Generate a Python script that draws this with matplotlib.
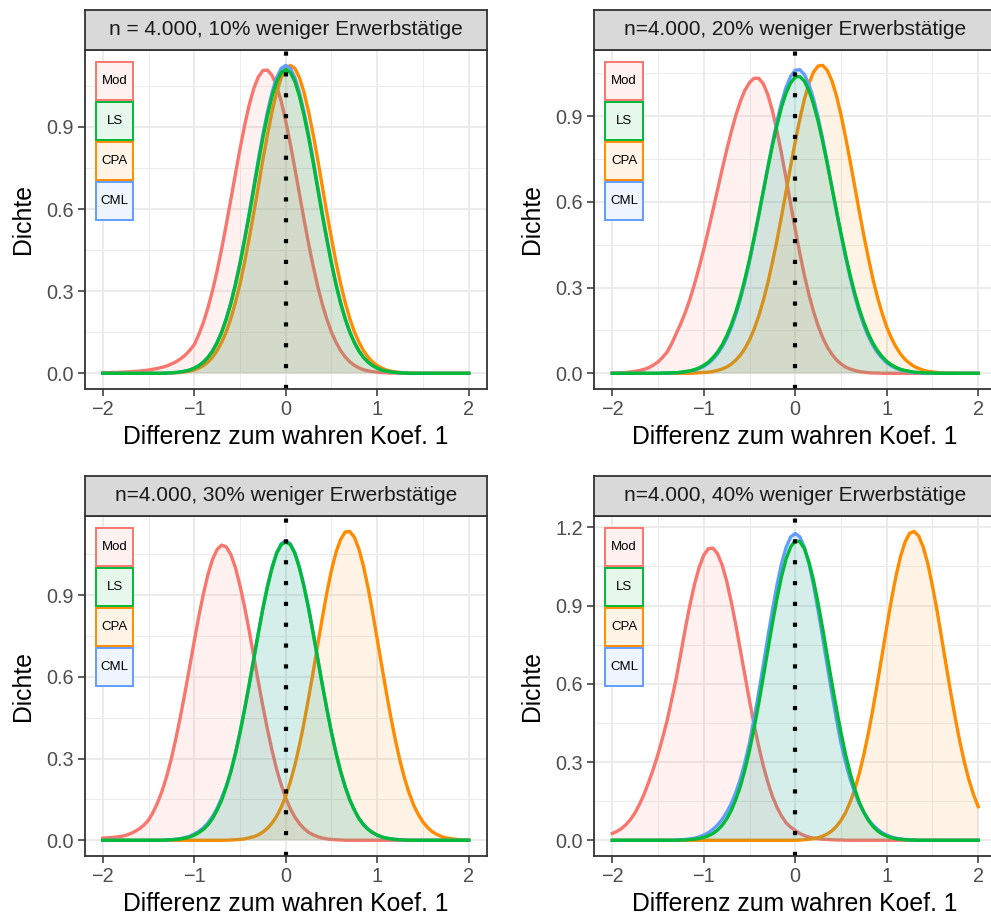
import numpy as np
import matplotlib.pyplot as plt
from matplotlib.colors import to_rgb
from matplotlib.patches import Rectangle

plt.rcParams['font.family'] = ['Liberation Sans', 'DejaVu Sans']

x_grid = np.round(np.linspace(-2, 2, 81), 2)

titles = ['n = 4.000, 10% weniger Erwerbstätige', 'n=4.000, 20% weniger Erwerbstätige',
          'n=4.000, 30% weniger Erwerbstätige', 'n=4.000, 40% weniger Erwerbstätige']
methods = ['Mod', 'LS', 'CPA', 'CML']
colors = {'Mod': '#F8766D', 'LS': '#00BA38', 'CPA': '#FF8C00', 'CML': '#619CFF'}
draw_order = ['Mod', 'CPA', 'CML', 'LS']

# ---- 10 % weniger Erwerbstaetige
mod_10 = [0.002, 0.002, 0.003, 0.003, 0.004, 0.005, 0.006, 0.007, 0.008, 0.010,
          0.012, 0.015, 0.018, 0.022, 0.027, 0.034, 0.042, 0.053, 0.066, 0.084,
          0.105, 0.142, 0.186, 0.240, 0.303, 0.375, 0.456, 0.544, 0.636, 0.729,
          0.820, 0.905, 0.980, 1.040, 1.083, 1.106, 1.108, 1.089, 1.050, 0.994,
          0.921, 0.838, 0.748, 0.655, 0.562, 0.473, 0.391, 0.317, 0.252, 0.197,
          0.150, 0.113, 0.083, 0.060, 0.042, 0.029, 0.020, 0.013, 0.009, 0.006,
          0.004, 0.003, 0.002, 0.001, 0.001, 0, 0, 0, 0, 0,
          0, 0, 0, 0, 0, 0, 0, 0, 0, 0,
          0]
ls_10 = [0, 0, 0, 0, 0, 0, 0, 0, 0, 0,
         0, 0, 0, 0, 0.001, 0.002, 0.003, 0.005, 0.008, 0.012,
         0.019, 0.028, 0.041, 0.058, 0.081, 0.112, 0.150, 0.198, 0.255, 0.323,
         0.400, 0.486, 0.577, 0.673, 0.769, 0.861, 0.942, 1.012, 1.066, 1.099,
         1.110, 1.099, 1.066, 1.012, 0.942, 0.861, 0.769, 0.673, 0.577, 0.486,
         0.400, 0.323, 0.255, 0.198, 0.150, 0.112, 0.081, 0.058, 0.041, 0.028,
         0.019, 0.012, 0.008, 0.005, 0.003, 0.002, 0.001, 0, 0, 0,
         0, 0, 0, 0, 0, 0, 0, 0, 0, 0,
         0]
cpa_10 = [0, 0, 0, 0, 0, 0, 0, 0, 0, 0,
          0, 0, 0, 0, 0.001, 0.001, 0.002, 0.003, 0.005, 0.008,
          0.012, 0.019, 0.028, 0.041, 0.059, 0.083, 0.114, 0.152, 0.200, 0.259,
          0.327, 0.405, 0.493, 0.585, 0.682, 0.780, 0.872, 0.955, 1.026, 1.080,
          1.114, 1.125, 1.114, 1.080, 1.026, 0.955, 0.872, 0.780, 0.682, 0.585,
          0.493, 0.405, 0.327, 0.259, 0.200, 0.152, 0.114, 0.083, 0.059, 0.041,
          0.028, 0.019, 0.012, 0.008, 0.005, 0.003, 0.002, 0.001, 0.001, 0,
          0, 0, 0, 0, 0, 0, 0, 0, 0, 0,
          0]
cml_10 = [0, 0, 0, 0, 0, 0, 0, 0, 0, 0,
          0, 0, 0, 0, 0.001, 0.002, 0.003, 0.005, 0.008, 0.012,
          0.019, 0.028, 0.041, 0.059, 0.083, 0.114, 0.152, 0.201, 0.259, 0.327,
          0.405, 0.493, 0.585, 0.682, 0.780, 0.873, 0.955, 1.026, 1.080, 1.114,
          1.125, 1.114, 1.080, 1.026, 0.955, 0.873, 0.780, 0.682, 0.585, 0.493,
          0.405, 0.327, 0.259, 0.201, 0.152, 0.114, 0.083, 0.059, 0.041, 0.028,
          0.019, 0.012, 0.008, 0.005, 0.003, 0.002, 0.001, 0, 0, 0,
          0, 0, 0, 0, 0, 0, 0, 0, 0, 0,
          0]

# ---- 20 %
mod_20 = [0.001, 0.001, 0.002, 0.003, 0.005, 0.007, 0.010, 0.014, 0.020, 0.029,
          0.040, 0.056, 0.075, 0.104, 0.140, 0.175, 0.215, 0.261, 0.314, 0.372,
          0.434, 0.501, 0.571, 0.642, 0.713, 0.781, 0.845, 0.903, 0.952, 0.991,
          1.018, 1.033, 1.033, 1.014, 0.976, 0.920, 0.849, 0.769, 0.682, 0.592,
          0.504, 0.420, 0.343, 0.275, 0.216, 0.166, 0.125, 0.092, 0.067, 0.047,
          0.033, 0.022, 0.015, 0.010, 0.006, 0.004, 0.002, 0.001, 0.001, 0,
          0, 0, 0, 0, 0, 0, 0, 0, 0, 0,
          0, 0, 0, 0, 0, 0, 0, 0, 0, 0,
          0]
ls_20 = [0, 0, 0, 0, 0, 0, 0, 0, 0, 0,
         0, 0.001, 0.001, 0.002, 0.002, 0.004, 0.006, 0.009, 0.013, 0.019,
         0.028, 0.039, 0.055, 0.074, 0.099, 0.131, 0.169, 0.215, 0.268, 0.331,
         0.399, 0.474, 0.554, 0.636, 0.718, 0.796, 0.868, 0.932, 0.982, 1.017,
         1.037, 1.039, 1.023, 0.990, 0.942, 0.882, 0.811, 0.733, 0.652, 0.570,
         0.490, 0.414, 0.344, 0.281, 0.225, 0.178, 0.138, 0.105, 0.079, 0.058,
         0.042, 0.030, 0.021, 0.014, 0.010, 0.007, 0.004, 0.003, 0.002, 0.001,
         0.001, 0, 0, 0, 0, 0, 0, 0, 0, 0,
         0]
cpa_20 = [0, 0, 0, 0, 0, 0, 0, 0, 0, 0,
          0, 0, 0, 0, 0, 0, 0, 0, 0.001, 0.002,
          0.003, 0.004, 0.006, 0.010, 0.015, 0.022, 0.032, 0.046, 0.064, 0.087,
          0.117, 0.154, 0.200, 0.254, 0.316, 0.388, 0.465, 0.550, 0.637, 0.726,
          0.811, 0.890, 0.960, 1.015, 1.055, 1.076, 1.078, 1.061, 1.025, 0.972,
          0.905, 0.827, 0.743, 0.655, 0.567, 0.482, 0.403, 0.329, 0.265, 0.210,
          0.162, 0.124, 0.093, 0.068, 0.049, 0.035, 0.024, 0.017, 0.011, 0.007,
          0.005, 0.003, 0.002, 0.001, 0.001, 0, 0, 0, 0, 0,
          0]
cml_20 = [0, 0, 0, 0, 0, 0, 0, 0, 0, 0,
          0, 0, 0.001, 0.001, 0.002, 0.003, 0.005, 0.008, 0.011, 0.017,
          0.024, 0.035, 0.049, 0.068, 0.092, 0.122, 0.160, 0.205, 0.260, 0.321,
          0.392, 0.469, 0.551, 0.637, 0.722, 0.805, 0.882, 0.948, 1.002, 1.040,
          1.061, 1.063, 1.046, 1.011, 0.960, 0.896, 0.821, 0.740, 0.653, 0.568,
          0.485, 0.407, 0.335, 0.271, 0.216, 0.168, 0.129, 0.097, 0.072, 0.053,
          0.037, 0.026, 0.018, 0.012, 0.008, 0.005, 0.003, 0.002, 0.001, 0.001,
          0, 0, 0, 0, 0, 0, 0, 0, 0, 0,
          0]

# ---- 30 %
mod_30 = [0.008, 0.009, 0.010, 0.012, 0.014, 0.018, 0.024, 0.032, 0.042, 0.056,
          0.074, 0.103, 0.139, 0.183, 0.237, 0.301, 0.375, 0.457, 0.545, 0.638,
          0.732, 0.823, 0.905, 0.977, 1.032, 1.068, 1.084, 1.077, 1.049, 1.001,
          0.935, 0.857, 0.770, 0.676, 0.582, 0.492, 0.407, 0.330, 0.261, 0.204,
          0.155, 0.116, 0.085, 0.061, 0.043, 0.029, 0.020, 0.013, 0.008, 0.005,
          0.003, 0.002, 0.001, 0, 0, 0, 0, 0, 0, 0,
          0, 0, 0, 0, 0, 0, 0, 0, 0, 0,
          0, 0, 0, 0, 0, 0, 0, 0, 0, 0,
          0]
ls_30 = [0, 0, 0, 0, 0, 0, 0, 0, 0, 0,
         0, 0, 0, 0, 0.001, 0.002, 0.003, 0.005, 0.008, 0.012,
         0.019, 0.028, 0.040, 0.057, 0.080, 0.111, 0.148, 0.196, 0.252, 0.319,
         0.395, 0.480, 0.570, 0.665, 0.759, 0.850, 0.930, 0.999, 1.053, 1.085,
         1.096, 1.085, 1.053, 0.999, 0.930, 0.850, 0.759, 0.665, 0.570, 0.480,
         0.395, 0.319, 0.252, 0.196, 0.148, 0.111, 0.080, 0.057, 0.040, 0.028,
         0.019, 0.012, 0.008, 0.005, 0.003, 0.002, 0.001, 0, 0, 0,
         0, 0, 0, 0, 0, 0, 0, 0, 0, 0,
         0]
cpa_30 = [0, 0, 0, 0, 0, 0, 0, 0, 0, 0,
          0, 0, 0, 0, 0, 0, 0, 0, 0, 0,
          0, 0, 0, 0, 0, 0, 0, 0, 0.001, 0.002,
          0.003, 0.005, 0.009, 0.013, 0.020, 0.030, 0.044, 0.063, 0.088, 0.121,
          0.162, 0.215, 0.276, 0.349, 0.432, 0.523, 0.619, 0.719, 0.817, 0.910,
          0.992, 1.058, 1.105, 1.132, 1.134, 1.113, 1.069, 1.006, 0.927, 0.836,
          0.738, 0.640, 0.542, 0.450, 0.366, 0.290, 0.226, 0.172, 0.128, 0.094,
          0.067, 0.047, 0.032, 0.022, 0.014, 0.009, 0.006, 0.004, 0.002, 0.001,
          0.001]
cml_30 = [0, 0, 0, 0, 0, 0, 0, 0, 0, 0,
          0, 0, 0, 0, 0.001, 0.002, 0.004, 0.006, 0.010, 0.015,
          0.023, 0.033, 0.046, 0.064, 0.088, 0.118, 0.156, 0.200, 0.253, 0.320,
          0.396, 0.482, 0.572, 0.667, 0.762, 0.853, 0.934, 1.003, 1.056, 1.089,
          1.100, 1.089, 1.056, 1.003, 0.934, 0.853, 0.762, 0.667, 0.572, 0.482,
          0.396, 0.320, 0.253, 0.196, 0.149, 0.111, 0.080, 0.057, 0.041, 0.028,
          0.019, 0.012, 0.008, 0.005, 0.003, 0.002, 0.001, 0, 0, 0,
          0, 0, 0, 0, 0, 0, 0, 0, 0, 0,
          0]

# ---- 40 %
mod_40 = [0.026, 0.034, 0.045, 0.060, 0.080, 0.106, 0.140, 0.179, 0.225, 0.275,
          0.330, 0.393, 0.460, 0.540, 0.623, 0.718, 0.815, 0.905, 0.983, 1.047,
          1.093, 1.118, 1.120, 1.099, 1.056, 0.994, 0.915, 0.826, 0.729, 0.632,
          0.535, 0.444, 0.361, 0.286, 0.223, 0.169, 0.127, 0.093, 0.067, 0.050,
          0.038, 0.026, 0.018, 0.012, 0.008, 0.006, 0.004, 0.003, 0.002, 0.001,
          0.001, 0, 0, 0, 0, 0, 0, 0, 0, 0,
          0, 0, 0, 0, 0, 0, 0, 0, 0, 0,
          0, 0, 0, 0, 0, 0, 0, 0, 0, 0,
          0]
ls_40 = [0, 0, 0, 0, 0, 0, 0, 0, 0, 0,
         0, 0, 0, 0, 0, 0.001, 0.001, 0.003, 0.004, 0.007,
         0.011, 0.017, 0.026, 0.039, 0.057, 0.082, 0.114, 0.156, 0.207, 0.270,
         0.345, 0.430, 0.523, 0.625, 0.729, 0.831, 0.927, 1.011, 1.079, 1.125,
         1.148, 1.145, 1.118, 1.066, 0.996, 0.908, 0.811, 0.707, 0.604, 0.505,
         0.413, 0.329, 0.258, 0.197, 0.146, 0.107, 0.076, 0.053, 0.036, 0.024,
         0.016, 0.010, 0.006, 0.004, 0.002, 0.001, 0.001, 0, 0, 0,
         0, 0, 0, 0, 0, 0, 0, 0, 0, 0,
         0]
cpa_40 = [0, 0, 0, 0, 0, 0, 0, 0, 0, 0,
          0, 0, 0, 0, 0, 0, 0, 0, 0, 0,
          0, 0, 0, 0, 0, 0, 0, 0, 0, 0,
          0, 0, 0, 0, 0, 0, 0, 0, 0, 0,
          0, 0.001, 0.002, 0.004, 0.006, 0.010, 0.016, 0.024, 0.036, 0.053,
          0.076, 0.106, 0.146, 0.195, 0.256, 0.329, 0.412, 0.505, 0.607, 0.712,
          0.818, 0.920, 1.011, 1.087, 1.143, 1.177, 1.184, 1.166, 1.123, 1.060,
          0.975, 0.881, 0.776, 0.670, 0.565, 0.467, 0.377, 0.298, 0.230, 0.174,
          0.129]
cml_40 = [0, 0, 0, 0, 0, 0, 0, 0, 0, 0,
          0, 0, 0, 0, 0.001, 0.002, 0.003, 0.005, 0.008, 0.013,
          0.020, 0.029, 0.042, 0.058, 0.080, 0.107, 0.140, 0.183, 0.235, 0.299,
          0.373, 0.465, 0.565, 0.670, 0.778, 0.882, 0.978, 1.061, 1.123, 1.163,
          1.176, 1.163, 1.123, 1.061, 0.978, 0.882, 0.778, 0.670, 0.565, 0.465,
          0.373, 0.299, 0.235, 0.183, 0.140, 0.107, 0.080, 0.058, 0.042, 0.029,
          0.020, 0.013, 0.008, 0.005, 0.003, 0.002, 0.001, 0, 0, 0,
          0, 0, 0, 0, 0, 0, 0, 0, 0, 0,
          0]

x_ticks = [-2, -1, 0, 1, 2]
y_ticks_small = [0.0, 0.3, 0.6, 0.9]
y_ticks_big = [0.0, 0.3, 0.6, 0.9, 1.2]

panels = [
    {'Mod': mod_10, 'LS': ls_10, 'CPA': cpa_10, 'CML': cml_10},
    {'Mod': mod_20, 'LS': ls_20, 'CPA': cpa_20, 'CML': cml_20},
    {'Mod': mod_30, 'LS': ls_30, 'CPA': cpa_30, 'CML': cml_30},
    {'Mod': mod_40, 'LS': ls_40, 'CPA': cpa_40, 'CML': cml_40},
]
panel_yticks = [y_ticks_small, y_ticks_small, y_ticks_small, y_ticks_big]

for p in panels:
    for k, v in p.items():
        assert len(v) == len(x_grid), k

W, H = 991, 917
fig = plt.figure(figsize=(W / 100, H / 100), dpi=100)

# panel boxes in pixels: (left, top, width, height)
boxes = [(84.5, 50, 402.5, 338.7), (594, 50, 402.5, 338.7),
         (84.5, 516, 402.5, 339.7), (594, 516, 402.5, 339.7)]
strip_h = 40.5


def pale(c, a=0.1):
    r, g, b = to_rgb(c)
    return (1 - a + a * r, 1 - a + a * g, 1 - a + a * b)


def draw_panel(ax, curves, yticks):
    for k, name in enumerate(draw_order):
        y = np.array(curves[name])
        ax.fill_between(x_grid, 0, y, facecolor=colors[name], alpha=0.1,
                        linewidth=0, edgecolor='none', zorder=2 + 2 * k)
        ax.plot(x_grid, y, color=colors[name], lw=2.4, zorder=3 + 2 * k,
                solid_joinstyle='round')

    ax.axvline(0, color='black', lw=3.0, ls=(0, (1, 4)), zorder=20)

    ax.set_xticks(x_ticks)
    ax.set_xticks([-1.5, -0.5, 0.5, 1.5], minor=True)
    ax.set_yticks(yticks)
    ax.set_yticks([t + 0.15 for t in yticks], minor=True)
    ax.set_yticklabels([f'{t:.1f}' for t in yticks])

    # ggplot-like expansion: 5 % of the data range on each side
    ymax = max(max(v) for v in curves.values())
    ax.set_ylim(-0.05 * ymax, 1.05 * ymax)
    ax.set_xlim(-2.2, 2.2)

    ax.tick_params(which='major', length=5, width=1.1, color='#333333',
                   labelsize=14.3, labelcolor='#4D4D4D', pad=3)
    ax.tick_params(which='minor', length=0)
    ax.grid(which='major', color='#EBEBEB', lw=1.4, zorder=0)
    ax.grid(which='minor', color='#EBEBEB', lw=0.7, zorder=0)
    ax.set_axisbelow(True)
    for s in ax.spines.values():
        s.set_color('#333333')
        s.set_linewidth(1.3)
        s.set_zorder(25)

    ax.set_xlabel('Differenz zum wahren Koef. 1', fontsize=17.8, color='black')
    ax.xaxis.set_label_coords(0.5, -0.142)
    ax.xaxis.label.set_verticalalignment('center')
    ax.set_ylabel('Dichte', fontsize=17.8, color='black')
    ax.yaxis.set_label_coords(-0.153, 0.5)
    ax.yaxis.label.set_verticalalignment('center')

    # legend-like labels in the top left corner
    pw, ph = ax.bbox.width, ax.bbox.height
    bx, bw, bh, step, top = 11.2, 37.6, 37.5, 40.0, 12.3
    for i, name in enumerate(methods):
        y0 = ph - top - i * step - bh
        ax.add_patch(Rectangle((bx / pw, y0 / ph), bw / pw, bh / ph,
                               transform=ax.transAxes, facecolor=pale(colors[name]),
                               edgecolor=colors[name], lw=1.4, zorder=30))
        ax.text((bx + bw / 2) / pw, (y0 + bh / 2) / ph, name, transform=ax.transAxes,
                ha='center', va='center', fontsize=9.5, color='black', zorder=31)


for (l, t, w, h), curves, yt, title in zip(boxes, panels, panel_yticks, titles):
    ax = fig.add_axes([l / W, 1 - (t + h) / H, w / W, h / H])
    draw_panel(ax, curves, yt)

    sax = fig.add_axes([l / W, 1 - t / H, w / W, strip_h / H])
    sax.set_facecolor('#D9D9D9')
    sax.set_xticks([])
    sax.set_yticks([])
    for s in sax.spines.values():
        s.set_color('#333333')
        s.set_linewidth(1.3)
    sax.text(0.5, 0.5, title, ha='center', va='center', fontsize=15, color='#1A1A1A')

fig.savefig('out.png', dpi=100)
